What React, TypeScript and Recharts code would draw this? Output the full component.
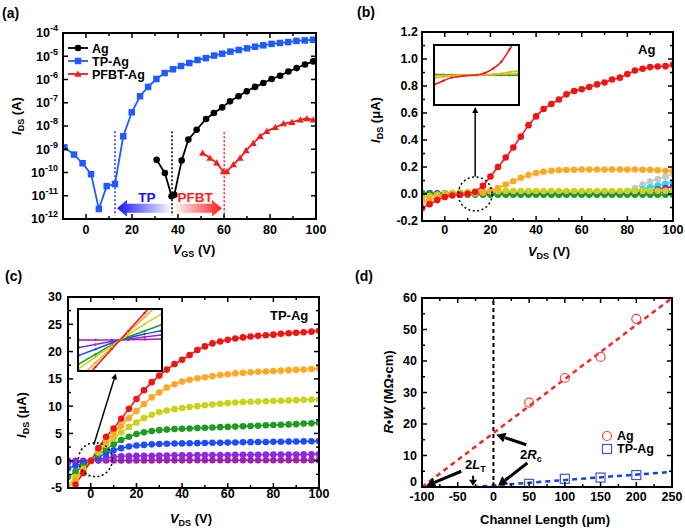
import { LineChart, Line, XAxis, YAxis, ReferenceLine, ReferenceDot } from 'recharts'

const FONT = '"Liberation Sans", Arial, sans-serif'
const W = 685
const H = 528

// (a) transfer curves
const agVgs = [30.7, 34.3, 37.2, 38.4, 41.6, 44.5, 48.1, 52.2, 55.6, 59.2, 62.6, 66.3, 69.9, 73.5, 77.1, 80.7, 84.4, 88, 91.6, 95.2, 98.8]
const agIds = [3.5e-10, 9.5e-11, 9.5e-12, 1.1e-11, 3.3e-10, 2.6e-9, 6.9e-9, 2.0e-8, 3.6e-8, 6.3e-8, 1.15e-7, 1.9e-7, 3.1e-7, 4.8e-7, 7.1e-7, 1.05e-6, 1.45e-6, 2.2e-6, 3.1e-6, 4.4e-6, 6.0e-6]
const tpVgs = [-9.4, -5.2, -1.5, 2.2, 5.6, 9.0, 12.6, 16.2, 19.9, 23.5, 27.0, 30.6, 34.2, 37.8, 41.3, 44.9, 48.5, 52.1, 55.7, 59.2, 62.8, 66.4, 70.0, 73.5, 77.1, 80.7, 84.3, 87.9, 91.5, 95.1, 98.7]
const tpIds = [1.2e-9, 5.9e-10, 2.5e-10, 8.5e-11, 2.7e-12, 2.6e-11, 3.2e-11, 3.6e-9, 3.9e-8, 1.9e-7, 4.8e-7, 1.05e-6, 1.9e-6, 2.75e-6, 3.8e-6, 5.1e-6, 6.9e-6, 8.3e-6, 1.07e-5, 1.29e-5, 1.58e-5, 1.86e-5, 2.19e-5, 2.57e-5, 2.95e-5, 3.39e-5, 3.72e-5, 4.07e-5, 4.57e-5, 4.79e-5, 5.13e-5]
const pfVgs = [50.7, 53.9, 56.8, 59.7, 61.2, 64.1, 67.0, 69.6, 72.7, 75.7, 78.6, 82.3, 85.9, 89.5, 93.2, 96.0, 98.8]
const pfIds = [6.9e-10, 4.2e-10, 2.6e-10, 1.1e-10, 1.1e-10, 2.2e-10, 4.2e-10, 8.9e-10, 1.8e-9, 3.6e-9, 5.9e-9, 8.7e-9, 1.26e-8, 1.45e-8, 1.86e-8, 2.1e-8, 1.86e-8]
const aXTicks = [0, 10, 20, 30, 40, 50, 60, 70, 80, 90, 100]
const aXMajor = [0, 20, 40, 60, 80, 100]
const aYTicks = [1e-12, 1e-11, 1e-10, 1e-9, 1e-8, 1e-7, 1e-6, 1e-5, 1e-4]

// (b), (c) output curves, same VDS sweep
const vds = [-10, -6.7, -3.3, 0, 3.3, 6.7, 10, 13.3, 16.7, 20, 23.3, 26.7, 30, 33.3, 36.7, 40, 43.3, 46.7, 50, 53.3, 56.7, 60, 63.3, 66.7, 70, 73.3, 76.7, 80, 83.3, 86.7, 90, 93.3, 96.7, 100]

const agRed = [-0.105, -0.075, -0.045, -0.023, -0.011, -0.005, 0.002, 0.016, 0.06, 0.13, 0.2, 0.27, 0.345, 0.425, 0.51, 0.575, 0.63, 0.667, 0.7, 0.738, 0.763, 0.776, 0.793, 0.812, 0.826, 0.848, 0.862, 0.888, 0.915, 0.928, 0.94, 0.944, 0.947, 0.958]
const agOrange = [-0.055, -0.04, -0.025, -0.013, -0.005, 0, 0.002, 0.004, 0.01, 0.025, 0.045, 0.07, 0.095, 0.12, 0.14, 0.155, 0.165, 0.172, 0.176, 0.178, 0.18, 0.181, 0.181, 0.181, 0.181, 0.181, 0.181, 0.181, 0.181, 0.18, 0.179, 0.176, 0.172, 0.17]
const agYellow = [-0.028, -0.015, -0.005, 0.003, 0.008, 0.012, 0.015, 0.017, 0.019, 0.02, 0.021, 0.022, 0.022, 0.022, 0.022, 0.022, 0.022, 0.022, 0.022, 0.022, 0.022, 0.022, 0.022, 0.022, 0.022, 0.022, 0.022, 0.022, 0.023, 0.023, 0.023, 0.024, 0.024, 0.025]
const agGreen = [0.004, 0.002, 0, -0.002, -0.003, -0.004, -0.005, -0.005, -0.005, -0.005, -0.005, -0.005, -0.005, -0.005, -0.005, -0.005, -0.005, -0.005, -0.005, -0.005, -0.005, -0.005, -0.005, -0.005, -0.005, -0.005, -0.005, -0.005, -0.005, -0.005, -0.005, -0.005, -0.005, -0.005]
const agBlue = [0.007, 0.005, 0.004, 0.003, 0.003, 0.003, 0.003, 0.003, 0.003, 0.003, 0.003, 0.003, 0.003, 0.003, 0.003, 0.003, 0.003, 0.003, 0.003, 0.003, 0.003, 0.003, 0.003, 0.003, 0.003, 0.003, 0.003, 0.004, 0.005, 0.007, 0.009, 0.012, 0.015, 0.018]
const agPurple = [0.003, 0.003, 0.003, 0.003, 0.003, 0.003, 0.003, 0.003, 0.003, 0.003, 0.003, 0.003, 0.003, 0.003, 0.003, 0.003, 0.003, 0.003, 0.003, 0.003, 0.003, 0.003, 0.003, 0.003, 0.003, 0.003, 0.003, 0.004, 0.006, 0.012, 0.022, 0.035, 0.045, 0.055]
const agCyan = [0.003, 0.003, 0.003, 0.003, 0.003, 0.003, 0.003, 0.003, 0.003, 0.003, 0.003, 0.003, 0.003, 0.003, 0.003, 0.003, 0.003, 0.003, 0.003, 0.003, 0.003, 0.003, 0.003, 0.003, 0.003, 0.003, 0.005, 0.01, 0.02, 0.035, 0.05, 0.062, 0.075, 0.088]
const agGrey = [0.003, 0.003, 0.003, 0.003, 0.003, 0.003, 0.003, 0.003, 0.003, 0.003, 0.003, 0.003, 0.003, 0.003, 0.003, 0.003, 0.003, 0.003, 0.003, 0.003, 0.003, 0.003, 0.003, 0.003, 0.003, 0.003, 0.008, 0.022, 0.045, 0.07, 0.093, 0.11, 0.128, 0.148]

const tpRed = [null, -4.35, -2.25, -0.05, 2.3, 4.4, 5.9, 7.7, 9.5, 11.3, 12.9, 14.4, 15.6, 16.7, 17.7, 18.5, 19.35, 20.3, 20.95, 21.5, 21.85, 22.15, 22.4, 22.6, 22.75, 22.9, 23.0, 23.1, 23.25, 23.35, 23.45, 23.55, 23.65, 23.8]
const tpOrange = [-4.9, -3.5, -1.8, 0.0, 1.8, 3.5, 5.0, 6.4, 7.8, 9.1, 10.4, 11.6, 12.5, 13.4, 14.0, 14.5, 14.85, 15.1, 15.3, 15.5, 15.7, 15.85, 16.0, 16.1, 16.2, 16.3, 16.35, 16.45, 16.5, 16.6, 16.65, 16.7, 16.8, 16.9]
const tpYellow = [-4.5, -3.0, -1.5, 0.0, 1.5, 2.9, 4.1, 5.2, 6.2, 7.0, 7.8, 8.4, 8.9, 9.2, 9.45, 9.65, 9.85, 10.0, 10.15, 10.3, 10.45, 10.55, 10.65, 10.75, 10.8, 10.85, 10.9, 10.95, 11.0, 11.05, 11.1, 11.15, 11.2, 11.2]
const tpGreen = [-3.0, -2.0, -1.0, 0.0, 1.1, 2.1, 3.0, 3.8, 4.4, 4.9, 5.2, 5.45, 5.6, 5.7, 5.8, 5.85, 5.9, 6.0, 6.05, 6.1, 6.15, 6.2, 6.25, 6.3, 6.35, 6.4, 6.5, 6.55, 6.6, 6.65, 6.7, 6.8, 6.85, 6.95]
const tpBlue = [-1.4, -0.9, -0.45, 0.0, 0.7, 1.3, 1.9, 2.3, 2.6, 2.8, 2.9, 3.0, 3.05, 3.1, 3.15, 3.17, 3.2, 3.22, 3.25, 3.28, 3.3, 3.32, 3.35, 3.37, 3.4, 3.42, 3.44, 3.46, 3.48, 3.5, 3.52, 3.54, 3.56, 3.6]
const tpViolet = [-0.3, -0.2, -0.1, 0.0, 0.25, 0.5, 0.7, 0.8, 0.85, 0.88, 0.9, 0.92, 0.94, 0.96, 0.98, 1.0, 1.01, 1.02, 1.03, 1.04, 1.05, 1.06, 1.07, 1.08, 1.09, 1.1, 1.11, 1.12, 1.13, 1.14, 1.15, 1.16, 1.18, 1.2]
const tpPurple = [0.0, 0.0, 0.0, 0.0, 0.02, 0.04, 0.05, 0.05, 0.06, 0.06, 0.06, 0.06, 0.07, 0.07, 0.07, 0.07, 0.07, 0.08, 0.08, 0.08, 0.08, 0.08, 0.08, 0.09, 0.09, 0.09, 0.09, 0.09, 0.09, 0.1, 0.1, 0.1, 0.1, 0.1]

const xMajor = [0, 20, 40, 60, 80, 100]
const xMinor = [-10, 10, 30, 50, 70, 90]
const bYMajor = [-0.2, 0, 0.2, 0.4, 0.6, 0.8, 1.0, 1.2]
const bYMinor = [-0.1, 0.1, 0.3, 0.5, 0.7, 0.9, 1.1]
const cYMajor = [-5, 0, 5, 10, 15, 20, 25, 30]
const cYMinor = [-2.5, 2.5, 7.5, 12.5, 17.5, 22.5, 27.5]

// insets (zoomed views around the crossing point, normalised units)
const insetBX = [0, 0.1, 0.2, 0.35, 0.5, 0.6, 0.7, 0.8, 0.9, 1]
const insetBRed = [-0.32, -0.2, -0.09, -0.03, 0, 0.07, 0.22, 0.46, 0.89, 1.4]
const insetBOrange = [-0.11, -0.06, -0.03, -0.01, 0, 0.01, 0.02, 0.05, 0.1, 0.14]
const insetBYellow = [-0.03, -0.02, -0.01, 0, 0, 0.01, 0.02, 0.03, 0.04, 0.05]
const insetBGreen = [0.02, 0.01, 0.01, 0, 0, 0, 0, -0.01, -0.01, -0.01]

const insetCX = [-1, -0.6, -0.2, 0.2, 0.6, 1]
const insetCRed = [-1.5, -0.9, -0.3, 0.3, 0.9, 1.5]
const insetCOrange = [-1.27, -0.76, -0.25, 0.25, 0.76, 1.27]
const insetCYellow = [-0.95, -0.57, -0.19, 0.18, 0.53, 0.85]
const insetCGreen = [-0.8, -0.48, -0.16, 0.1, 0.3, 0.5]
const insetCBlue = [-0.51, -0.31, -0.1, 0.07, 0.2, 0.31]
const insetCViolet = [-0.25, -0.15, -0.05, 0.03, 0.1, 0.17]
const insetCPurple = [0, 0, 0, 0.01, 0.02, 0.03]

// (d) transfer length method
const channelL = [50, 100, 150, 200]
const agRW = [26.8, 34.6, 41.3, 53.4]
const tpRW = [1.0, 2.6, 3.0, 3.8]
const agFitL = [-100, 250]
const agFitRW = [0, 60]
const tpFitL = [-28, 250]
const tpFitRW = [0, 4.8]
const dXMajor = [-100, -50, 0, 50, 100, 150, 200, 250]
const dXMinor = [-75, -25, 25, 75, 125, 175, 225]
const dYMajor = [0, 10, 20, 30, 40, 50, 60]
const dYMinor = [5, 15, 25, 35, 45, 55]

const C = {
  red: '#f01414',
  orange: '#ffa824',
  yellow: '#c9d21c',
  green: '#1f9a22',
  blue: '#1f4cff',
  cyan: '#22dcf2',
  purple: '#a020b0',
  violet: '#8a2be2',
  grey: '#c8c8c8',
}

type Box = { left: number; top: number; width: number; height: number }
const boxA: Box = { left: 63, top: 33, width: 253, height: 186 }
const boxB: Box = { left: 422, top: 32, width: 251, height: 189 }
const boxC: Box = { left: 68, top: 297, width: 251, height: 191 }
const boxD: Box = { left: 422, top: 298, width: 250, height: 189 }

// axes take 1px each, so take it back from the margins
const marg = (b: Box) => ({ top: b.top, left: b.left - 1, right: W - b.left - b.width, bottom: H - b.top - b.height - 1 })
const pts = (xs: number[], ys: (number | null)[]) => xs.map((x, i) => ({ x, y: ys[i] })).filter((p) => p.y !== null)
const merge = (a: number[], b: number[]) => [...a, ...b].sort((p, q) => p - q)

const TS = 12.5

function bottomTick(box: Box, majors: number[], fmt: (v: number) => string, gap: number) {
  return (p: any) => {
    const v = p.payload.value
    const major = majors.includes(v)
    const len = major ? 5 : 3
    const yb = box.top + box.height
    return (
      <g>
        <line x1={p.x} y1={yb} x2={p.x} y2={yb - len} stroke="#000" strokeWidth={1.5} />
        <line x1={p.x} y1={box.top} x2={p.x} y2={box.top + len} stroke="#000" strokeWidth={1.5} />
        {major && (
          <text x={p.x} y={yb + gap} dy="0.8em" textAnchor="middle" fontFamily={FONT} fontWeight="bold" fontSize={TS} fill="#000">
            {fmt(v)}
          </text>
        )}
      </g>
    )
  }
}

// lift: pixels to raise a label (used to keep the corner "0" clear of the x labels)
function leftTick(box: Box, majors: number[], fmt: (v: number) => any, gap: number, lift: (v: number) => number = () => 0) {
  return (p: any) => {
    const v = p.payload.value
    const major = majors.includes(v)
    const len = major ? 5 : 3
    const xr = box.left + box.width
    return (
      <g>
        <line x1={box.left} y1={p.y} x2={box.left + len} y2={p.y} stroke="#000" strokeWidth={1.5} />
        <line x1={xr} y1={p.y} x2={xr - len} y2={p.y} stroke="#000" strokeWidth={1.5} />
        {major && (
          <text x={box.left - gap} y={p.y - lift(v)} dy="0.35em" textAnchor="end" fontFamily={FONT} fontWeight="bold" fontSize={TS} fill="#000">
            {fmt(v)}
          </text>
        )}
      </g>
    )
  }
}

const powLabel = (v: number) => (
  <>
    <tspan>10</tspan>
    <tspan fontSize={9} dy={-6}>{Math.round(Math.log10(v))}</tspan>
  </>
)

function arrowShape(color: string, w: number, hl: number, hw: number) {
  return (p: any) => {
    const { x1, y1, x2, y2 } = p
    const a = Math.atan2(y2 - y1, x2 - x1)
    const bx = x2 - hl * Math.cos(a)
    const by = y2 - hl * Math.sin(a)
    const nx = -Math.sin(a) * hw
    const ny = Math.cos(a) * hw
    return (
      <g>
        <line x1={x1} y1={y1} x2={bx} y2={by} stroke={color} strokeWidth={w} />
        <polygon points={`${x2},${y2} ${bx + nx},${by + ny} ${bx - nx},${by - ny}`} fill={color} />
      </g>
    )
  }
}

function fadeArrow(id: string, color: string) {
  return (p: any) => {
    const { x1, y1, x2 } = p
    const dir = Math.sign(x2 - x1)
    const xb = x2 - dir * 10
    const bh = 4.5
    const hh = 8.5
    const poly = `${x1},${y1 - bh} ${xb},${y1 - bh} ${xb},${y1 - hh} ${x2},${y1} ${xb},${y1 + hh} ${xb},${y1 + bh} ${x1},${y1 + bh}`
    return (
      <g>
        <defs>
          <linearGradient id={id} gradientUnits="userSpaceOnUse" x1={x1} y1={0} x2={x2} y2={0}>
            <stop offset="0" stopColor={color} stopOpacity={0.04} />
            <stop offset="1" stopColor={color} stopOpacity={1} />
          </linearGradient>
        </defs>
        <polygon points={poly} fill={`url(#${id})`} />
      </g>
    )
  }
}

const circleDot = (color: string, r: number) => (p: any) => (
  <circle key={`c${p.index}`} cx={p.cx} cy={p.cy} r={r} fill={color} />
)
const squareDot = (color: string, s: number) => (p: any) => (
  <rect key={`s${p.index}`} x={p.cx - s / 2} y={p.cy - s / 2} width={s} height={s} fill={color} />
)
const triDot = (color: string, s: number) => (p: any) => (
  <polygon key={`t${p.index}`} points={`${p.cx},${p.cy - s} ${p.cx - s},${p.cy + s * 0.75} ${p.cx + s},${p.cy + s * 0.75}`} fill={color} />
)

const abs = { position: 'absolute' as const, left: 0, top: 0 }

function Frame({ box }: { box: Box }) {
  return (
    <div style={{ position: 'absolute', left: box.left - 1, top: box.top - 1, width: box.width + 2, height: box.height + 2, border: '2px solid #000', boxSizing: 'border-box' }} />
  )
}

function PanelA() {
  return (
    <div style={abs}>
      <LineChart width={W} height={H} margin={marg(boxA)}>
        <XAxis type="number" dataKey="x" domain={[-10, 100]} allowDataOverflow ticks={aXTicks} interval={0} height={1} tickSize={0} axisLine={false} tickLine={false} tick={bottomTick(boxA, aXMajor, String, 5)} />
        <YAxis type="number" scale="log" domain={[1e-12, 1e-4]} allowDataOverflow ticks={aYTicks} interval={0} width={1} tickSize={0} axisLine={false} tickLine={false} tick={leftTick(boxA, aYTicks, powLabel, 5)} />
        <ReferenceLine segment={[{ x: 12.6, y: 5.9e-9 }, { x: 12.6, y: 1.4e-12 }]} stroke="#2a2aff" strokeWidth={1.5} strokeDasharray="2 2" />
        <ReferenceLine segment={[{ x: 37.4, y: 5.9e-9 }, { x: 37.4, y: 1.4e-12 }]} stroke="#000" strokeWidth={1.5} strokeDasharray="2 2" />
        <ReferenceLine segment={[{ x: 60.1, y: 5.4e-9 }, { x: 60.1, y: 1e-12 }]} stroke="#ff2020" strokeWidth={1.5} strokeDasharray="2 2" />
        <ReferenceLine segment={[{ x: 36.5, y: 2.9e-12 }, { x: 13.5, y: 2.9e-12 }]} shape={fadeArrow('tpGrad', '#1414ff')} />
        <ReferenceLine segment={[{ x: 38.7, y: 2.9e-12 }, { x: 59.1, y: 2.9e-12 }]} shape={fadeArrow('pfGrad', '#ff1e1e')} />
        <Line data={pts(tpVgs, tpIds)} dataKey="y" type="linear" stroke="#1f5cff" strokeWidth={1.8} dot={squareDot('#1f5cff', 6.5)} isAnimationActive={false} />
        <Line data={pts(agVgs, agIds)} dataKey="y" type="linear" stroke="#000" strokeWidth={1.8} dot={circleDot('#000', 3.3)} isAnimationActive={false} />
        <Line data={pts(pfVgs, pfIds)} dataKey="y" type="linear" stroke="#f02020" strokeWidth={1.8} dot={triDot('#f02020', 3.6)} isAnimationActive={false} />
      </LineChart>
    </div>
  )
}

const bData = vds.map((x, i) => ({
  x, red: agRed[i], orange: agOrange[i], yellow: agYellow[i], green: agGreen[i],
  blue: agBlue[i], purple: agPurple[i], cyan: agCyan[i], grey: agGrey[i],
}))

function PanelB() {
  const series: [string, string][] = [
    ['grey', C.grey], ['cyan', C.cyan], ['purple', C.purple], ['blue', C.blue],
    ['green', C.green], ['yellow', C.yellow], ['orange', C.orange], ['red', C.red],
  ]
  return (
    <div style={abs}>
      <LineChart width={W} height={H} margin={marg(boxB)} data={bData}>
        <XAxis type="number" dataKey="x" domain={[-10, 100]} allowDataOverflow ticks={merge(xMajor, xMinor)} interval={0} height={1} tickSize={0} axisLine={false} tickLine={false} tick={bottomTick(boxB, xMajor, String, 3)} />
        <YAxis type="number" domain={[-0.2, 1.2]} allowDataOverflow ticks={merge(bYMajor, bYMinor)} interval={0} width={1} tickSize={0} axisLine={false} tickLine={false} tick={leftTick(boxB, bYMajor, (v) => v.toFixed(1), 4)} />
        {series.map(([k, c]) => (
          <Line key={k} dataKey={k} type="linear" stroke={c} strokeWidth={1.5} dot={{ r: 3.3, fill: c, stroke: c, strokeWidth: 0 }} isAnimationActive={false} />
        ))}
        <ReferenceDot x={13.3} y={0} r={17} fill="none" stroke="#000" strokeWidth={1.5} strokeDasharray="2 2.5" />
        <ReferenceLine segment={[{ x: 13.3, y: 0.13 }, { x: 13.3, y: 0.644 }]} shape={arrowShape('#000', 1.5, 6, 3)} />
      </LineChart>
    </div>
  )
}

const cData = vds.map((x, i) => ({
  x, red: tpRed[i], orange: tpOrange[i], yellow: tpYellow[i], green: tpGreen[i],
  blue: tpBlue[i], violet: tpViolet[i], purple: tpPurple[i],
}))

function PanelC() {
  const series: [string, string][] = [
    ['purple', C.purple], ['violet', C.violet], ['blue', C.blue], ['green', C.green],
    ['yellow', C.yellow], ['orange', C.orange], ['red', C.red],
  ]
  return (
    <div style={abs}>
      <LineChart width={W} height={H} margin={marg(boxC)} data={cData}>
        <XAxis type="number" dataKey="x" domain={[-10, 100]} allowDataOverflow ticks={merge(xMajor, xMinor)} interval={0} height={1} tickSize={0} axisLine={false} tickLine={false} tick={bottomTick(boxC, xMajor, String, 0)} />
        <YAxis type="number" domain={[-5, 30]} allowDataOverflow ticks={merge(cYMajor, cYMinor)} interval={0} width={1} tickSize={0} axisLine={false} tickLine={false} tick={leftTick(boxC, cYMajor, String, 6)} />
        {series.map(([k, c]) => (
          <Line key={k} dataKey={k} type="linear" stroke={c} strokeWidth={1.5} connectNulls={false} dot={{ r: 3.3, fill: c, stroke: c, strokeWidth: 0 }} isAnimationActive={false} />
        ))}
        <ReferenceDot x={2} y={0.2} r={17} fill="none" stroke="#000" strokeWidth={1.5} strokeDasharray="2 2.5" />
        <ReferenceLine segment={[{ x: 1.3, y: 2.9 }, { x: 11, y: 16 }]} shape={arrowShape('#000', 1.5, 6, 3)} />
      </LineChart>
    </div>
  )
}

function PanelD() {
  return (
    <div style={abs}>
      <LineChart width={W} height={H} margin={marg(boxD)}>
        <XAxis type="number" dataKey="x" domain={[-100, 250]} allowDataOverflow ticks={merge(dXMajor, dXMinor)} interval={0} height={1} tickSize={0} axisLine={false} tickLine={false} tick={bottomTick(boxD, dXMajor, String, 4)} />
        <YAxis type="number" domain={[0, 60]} allowDataOverflow ticks={merge(dYMajor, dYMinor)} interval={0} width={1} tickSize={0} axisLine={false} tickLine={false} tick={leftTick(boxD, dYMajor, String, 5, (v) => (v === 0 ? 5 : 0))} />
        <ReferenceLine x={0} stroke="#000" strokeWidth={2} strokeDasharray="4 3" />
        <Line data={pts(agFitL, agFitRW)} dataKey="y" type="linear" stroke="#f02828" strokeWidth={2.5} strokeDasharray="5 4" dot={false} isAnimationActive={false} />
        <Line data={pts(tpFitL, tpFitRW)} dataKey="y" type="linear" stroke="#1f3fd8" strokeWidth={2.5} strokeDasharray="5 4" dot={false} isAnimationActive={false} />
        <Line data={pts(channelL, agRW)} dataKey="y" stroke="none" dot={(p: any) => <circle key={`a${p.index}`} cx={p.cx} cy={p.cy} r={4.5} fill="none" stroke="#ff4040" strokeWidth={1.2} />} isAnimationActive={false} />
        <Line data={pts(channelL, tpRW)} dataKey="y" stroke="none" dot={(p: any) => <rect key={`b${p.index}`} x={p.cx - 4.5} y={p.cy - 4.5} width={9} height={9} fill="none" stroke="#3a5ac8" strokeWidth={1.2} />} isAnimationActive={false} />
        <ReferenceLine segment={[{ x: 46, y: 13.4 }, { x: 4, y: 16.6 }]} shape={arrowShape('#000', 3, 9, 5)} />
        <ReferenceLine segment={[{ x: 47.5, y: 7.6 }, { x: 6.5, y: 0.4 }]} shape={arrowShape('#000', 3, 9, 5)} />
        <ReferenceLine segment={[{ x: -45, y: 5.0 }, { x: -94, y: 0.4 }]} shape={arrowShape('#000', 3, 9, 5)} />
        <ReferenceLine segment={[{ x: -28.5, y: 3.6 }, { x: -28.5, y: 0.4 }]} shape={arrowShape('#000', 2, 6, 4)} />
      </LineChart>
    </div>
  )
}

function Inset({ left, top, width, height, xDomain, data, series }: any) {
  return (
    <div style={{ position: 'absolute', left, top, width, height, border: '2px solid #000', boxSizing: 'border-box', background: '#fff' }}>
      <LineChart width={width - 4} height={height - 4} margin={{ top: 0, right: 0, bottom: 0, left: 0 }} data={data}>
        <XAxis type="number" dataKey="x" domain={xDomain} allowDataOverflow hide />
        <YAxis type="number" domain={[-1, 1]} allowDataOverflow hide />
        {series.map(([k, c]: [string, string]) => (
          <Line key={k} dataKey={k} type="monotone" stroke={c} strokeWidth={1.5} dot={{ r: 1.2, fill: c, stroke: c, strokeWidth: 0 }} isAnimationActive={false} />
        ))}
      </LineChart>
    </div>
  )
}

const insetBData = insetBX.map((x, i) => ({ x, green: insetBGreen[i], yellow: insetBYellow[i], orange: insetBOrange[i], red: insetBRed[i] }))
const insetCData = insetCX.map((x, i) => ({
  x, purple: insetCPurple[i], violet: insetCViolet[i], blue: insetCBlue[i], green: insetCGreen[i],
  yellow: insetCYellow[i], orange: insetCOrange[i], red: insetCRed[i],
}))

function Title({ x, y, main, sub, unit, rotate }: any) {
  return (
    <text x={x} y={y} textAnchor="middle" fontSize={13} transform={rotate ? `rotate(-90 ${x} ${y})` : undefined}>
      <tspan fontStyle="italic">{main}</tspan>
      <tspan fontSize={9} dy={3}>{sub}</tspan>
      <tspan dy={-3}>{unit}</tspan>
    </text>
  )
}

function Overlay() {
  const legA: [number, string, any][] = [
    [48, 'Ag', <circle cx={78} cy={48} r={3.3} fill="#000" />],
    [61, 'TP-Ag', <rect x={74.75} y={57.75} width={6.5} height={6.5} fill="#1f5cff" />],
    [74, 'PFBT-Ag', <polygon points="78,70.4 74.4,76.7 81.6,76.7" fill="#f02020" />],
  ]
  const legColors = ['#000', '#1f5cff', '#f02020']
  return (
    <svg width={W} height={H} style={{ ...abs, pointerEvents: 'none' }} fontFamily={FONT} fontWeight="bold" fill="#000">
      <text x={2} y={18} fontSize={14}>(a)</text>
      <text x={357} y={17} fontSize={14}>(b)</text>
      <text x={5} y={281} fontSize={14}>(c)</text>
      <text x={355} y={281} fontSize={14}>(d)</text>

      <Title x={21} y={116} main="I" sub="DS" unit=" (A)" rotate />
      <Title x={194} y={254} main="V" sub="GS" unit=" (V)" />
      <Title x={380} y={120} main="I" sub="DS" unit=" (μA)" rotate />
      <Title x={549} y={256} main="V" sub="DS" unit=" (V)" />
      <Title x={26} y={415} main="I" sub="DS" unit=" (μA)" rotate />
      <Title x={191} y={523} main="V" sub="DS" unit=" (V)" />
      <text x={393} y={392} textAnchor="middle" fontSize={13} transform="rotate(-90 393 392)">
        <tspan fontStyle="italic">R</tspan>•<tspan fontStyle="italic">W</tspan> (MΩ•cm)
      </text>
      <text x={545} y={524} textAnchor="middle" fontSize={13}>Channel Length (μm)</text>

      {legA.map(([y, name, mark], i) => (
        <g key={name}>
          <line x1={68} y1={y} x2={88} y2={y} stroke={legColors[i]} strokeWidth={1.8} />
          {mark}
          <text x={92} y={y + 4.5} fontSize={12.5}>{name}</text>
        </g>
      ))}
      <text x={147} y={202} textAnchor="middle" fontSize={13.5} fill="#1414ff">TP</text>
      <text x={195} y={202} textAnchor="middle" fontSize={13.5} fill="#ff1e1e">PFBT</text>

      <text x={638} y={54} fontSize={13}>Ag</text>
      <text x={270} y={320} fontSize={13}>TP-Ag</text>

      <circle cx={607} cy={436} r={4.5} fill="none" stroke="#ff4040" strokeWidth={1.2} />
      <text x={617} y={440} fontSize={12.5}>Ag</text>
      <rect x={602.5} y={444.5} width={9} height={9} fill="none" stroke="#3a5ac8" strokeWidth={1.2} />
      <text x={617} y={453} fontSize={12.5}>TP-Ag</text>

      <text x={520} y={459} fontSize={13}>2<tspan fontStyle="italic">R</tspan><tspan fontSize={9} dy={3}>c</tspan></text>
      <text x={465} y={469} fontSize={13}>2<tspan fontStyle="italic">L</tspan><tspan fontSize={9} dy={3}>T</tspan></text>
    </svg>
  )
}

export default function App() {
  return (
    <div style={{ position: 'absolute', left: 0, top: 0, width: W, height: H, background: '#fff', fontFamily: FONT }}>
      <PanelA />
      <PanelB />
      <PanelC />
      <PanelD />
      <Frame box={boxA} />
      <Frame box={boxB} />
      <Frame box={boxC} />
      <Frame box={boxD} />
      <Inset left={433} top={44} width={87} height={62} xDomain={[0, 1]} data={insetBData}
        series={[['green', C.green], ['yellow', C.yellow], ['orange', C.orange], ['red', C.red]]} />
      <Inset left={77} top={308} width={86} height={64} xDomain={[-1, 1]} data={insetCData}
        series={[['purple', C.purple], ['violet', C.violet], ['blue', C.blue], ['green', C.green], ['yellow', C.yellow], ['orange', C.orange], ['red', C.red]]} />
      <Overlay />
    </div>
  )
}
